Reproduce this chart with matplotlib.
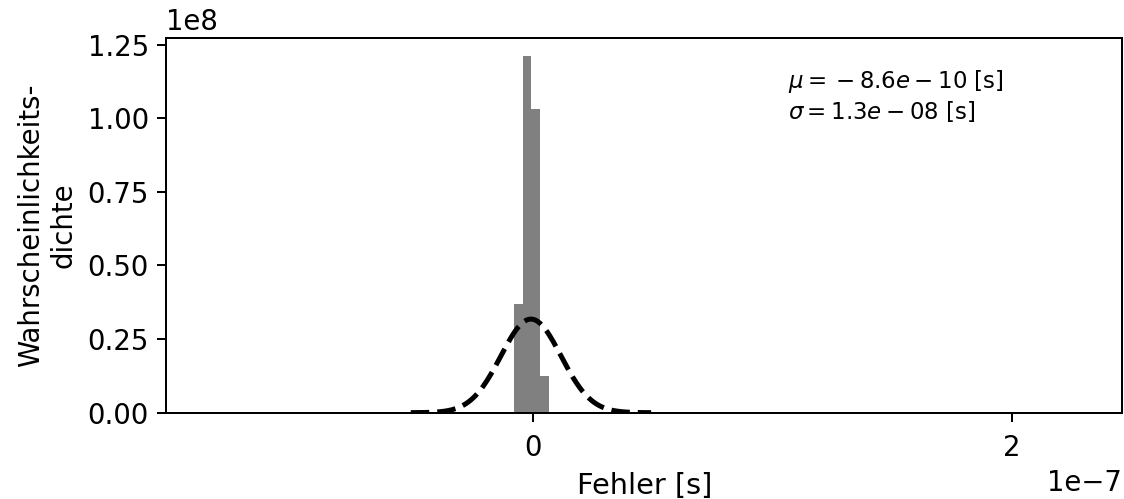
import numpy as np
import matplotlib
matplotlib.use("Agg")
import matplotlib.pyplot as plt
from matplotlib.ticker import MultipleLocator

plt.rcParams["font.size"] = 11

# histogram range and bin count (density histogram of timing error)
hist_lo = -1.350e-7
hist_hi = 2.280e-7
n_bins = 100
# non-empty bins (index -> density)
filled_idx = [35, 36, 37, 38]
filled_dens = [0.368e8, 1.2125e8, 1.031e8, 0.125e8]

# fitted normal distribution
mu = -8.6e-10
sigma = 1.255e-8

edges = np.linspace(hist_lo, hist_hi, n_bins + 1)
centers = 0.5 * (edges[:-1] + edges[1:])
dens = np.zeros(n_bins)
dens[filled_idx] = filled_dens

fig = plt.figure(figsize=(1124 / 180, 499 / 180), dpi=180)
ax = fig.add_axes([0.148, 0.173, 0.8505, 0.751])

ax.hist(centers, bins=edges, weights=dens, color="gray")

x = np.linspace(mu - 4 * sigma, mu + 4 * sigma, 200)
pdf = 1 / (sigma * np.sqrt(2 * np.pi)) * np.exp(-0.5 * ((x - mu) / sigma) ** 2)
ax.plot(x, pdf, "k--", lw=2)

# "{}" before the minus keeps the old binary-minus spacing of the label
mu_txt = f"{mu:.2}".replace("-", "{}-", 1)
ax.text(0.65, 0.92, f"$\\mu = {mu_txt}$ [s]\n$\\sigma = {sigma:.2}$ [s]",
        transform=ax.transAxes, va="top", fontsize="small")

ax.xaxis.set_major_locator(MultipleLocator(2e-7))
ax.yaxis.set_major_locator(MultipleLocator(0.25e8))
ax.tick_params(axis="x", pad=5)

ax.set_xlabel("Fehler [s]", fontsize=11.5)
ax.set_ylabel("Wahrscheinlichkeits-\ndichte")

fig.savefig("out.png", dpi=180)
